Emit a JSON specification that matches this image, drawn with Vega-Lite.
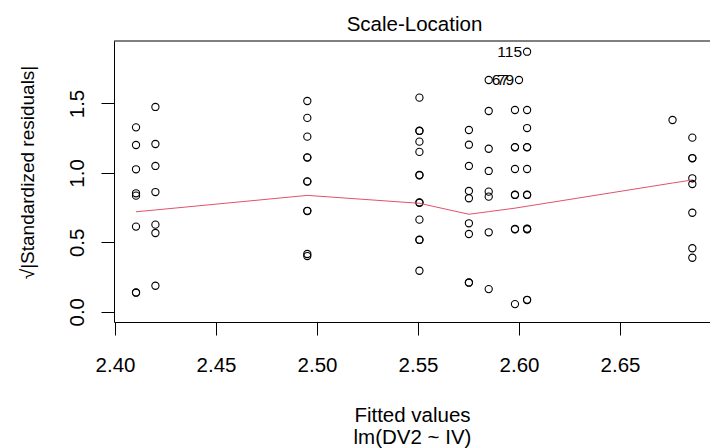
{
  "$schema": "https://vega.github.io/schema/vega-lite/v6.json",
  "width": 596,
  "height": 281,
  "autosize": {"type": "none"},
  "padding": {"left": 114, "top": 41, "right": 0, "bottom": 126},
  "config": {
    "view": {"stroke": null},
    "axis": {
      "grid": false,
      "domainColor": "#000",
      "tickColor": "#000",
      "labelColor": "#000",
      "titleColor": "#000",
      "labelFont": "Liberation Sans",
      "titleFont": "Liberation Sans",
      "labelFontSize": 20.5,
      "titleFontSize": 20.5,
      "titleFontWeight": "normal",
      "tickSize": 13
    }
  },
  "title": {
    "text": "Scale-Location",
    "fontSize": 20.5,
    "fontWeight": "normal",
    "font": "Liberation Sans",
    "color": "#000",
    "anchor": "middle",
    "frame": "group",
    "offset": 5,
    "dx": 2.5
  },
  "datasets": {
    "pts": [
      {"fitted": 2.4104, "sr": 1.328, "label": ""},
      {"fitted": 2.4104, "sr": 1.201, "label": ""},
      {"fitted": 2.4104, "sr": 1.026, "label": ""},
      {"fitted": 2.4104, "sr": 0.853, "label": ""},
      {"fitted": 2.4104, "sr": 0.836, "label": ""},
      {"fitted": 2.4104, "sr": 0.613, "label": ""},
      {"fitted": 2.4104, "sr": 0.137, "label": ""},
      {"fitted": 2.4104, "sr": 0.139, "label": ""},
      {"fitted": 2.42, "sr": 1.475, "label": ""},
      {"fitted": 2.42, "sr": 1.208, "label": ""},
      {"fitted": 2.42, "sr": 1.05, "label": ""},
      {"fitted": 2.42, "sr": 0.862, "label": ""},
      {"fitted": 2.42, "sr": 0.627, "label": ""},
      {"fitted": 2.42, "sr": 0.567, "label": ""},
      {"fitted": 2.42, "sr": 0.187, "label": ""},
      {"fitted": 2.4952, "sr": 1.518, "label": ""},
      {"fitted": 2.4952, "sr": 1.396, "label": ""},
      {"fitted": 2.4952, "sr": 1.261, "label": ""},
      {"fitted": 2.4952, "sr": 1.11, "label": ""},
      {"fitted": 2.4952, "sr": 1.112, "label": ""},
      {"fitted": 2.4952, "sr": 0.937, "label": ""},
      {"fitted": 2.4952, "sr": 0.939, "label": ""},
      {"fitted": 2.4952, "sr": 0.725, "label": ""},
      {"fitted": 2.4952, "sr": 0.727, "label": ""},
      {"fitted": 2.4952, "sr": 0.416, "label": ""},
      {"fitted": 2.4952, "sr": 0.401, "label": ""},
      {"fitted": 2.5507, "sr": 1.542, "label": ""},
      {"fitted": 2.5507, "sr": 1.302, "label": ""},
      {"fitted": 2.5507, "sr": 1.304, "label": ""},
      {"fitted": 2.5507, "sr": 1.225, "label": ""},
      {"fitted": 2.5507, "sr": 1.151, "label": ""},
      {"fitted": 2.5507, "sr": 0.983, "label": ""},
      {"fitted": 2.5507, "sr": 0.985, "label": ""},
      {"fitted": 2.5507, "sr": 0.785, "label": ""},
      {"fitted": 2.5507, "sr": 0.787, "label": ""},
      {"fitted": 2.5507, "sr": 0.663, "label": ""},
      {"fitted": 2.5507, "sr": 0.517, "label": ""},
      {"fitted": 2.5507, "sr": 0.519, "label": ""},
      {"fitted": 2.5507, "sr": 0.295, "label": ""},
      {"fitted": 2.5752, "sr": 1.309, "label": ""},
      {"fitted": 2.5752, "sr": 1.203, "label": ""},
      {"fitted": 2.5752, "sr": 1.05, "label": ""},
      {"fitted": 2.5752, "sr": 0.87, "label": ""},
      {"fitted": 2.5752, "sr": 0.817, "label": ""},
      {"fitted": 2.5752, "sr": 0.637, "label": ""},
      {"fitted": 2.5752, "sr": 0.56, "label": ""},
      {"fitted": 2.5752, "sr": 0.209, "label": ""},
      {"fitted": 2.5752, "sr": 0.211, "label": ""},
      {"fitted": 2.585, "sr": 1.669, "label": "67"},
      {"fitted": 2.585, "sr": 1.446, "label": ""},
      {"fitted": 2.585, "sr": 1.174, "label": ""},
      {"fitted": 2.585, "sr": 1.014, "label": ""},
      {"fitted": 2.585, "sr": 0.865, "label": ""},
      {"fitted": 2.585, "sr": 0.829, "label": ""},
      {"fitted": 2.585, "sr": 0.572, "label": ""},
      {"fitted": 2.585, "sr": 0.163, "label": ""},
      {"fitted": 2.6, "sr": 1.669, "label": "79"},
      {"fitted": 2.598, "sr": 1.453, "label": ""},
      {"fitted": 2.598, "sr": 1.184, "label": ""},
      {"fitted": 2.598, "sr": 1.186, "label": ""},
      {"fitted": 2.598, "sr": 1.028, "label": ""},
      {"fitted": 2.598, "sr": 0.841, "label": ""},
      {"fitted": 2.598, "sr": 0.843, "label": ""},
      {"fitted": 2.598, "sr": 0.594, "label": ""},
      {"fitted": 2.598, "sr": 0.596, "label": ""},
      {"fitted": 2.598, "sr": 0.055, "label": ""},
      {"fitted": 2.604, "sr": 1.873, "label": "115"},
      {"fitted": 2.604, "sr": 1.453, "label": ""},
      {"fitted": 2.604, "sr": 1.323, "label": ""},
      {"fitted": 2.604, "sr": 1.184, "label": ""},
      {"fitted": 2.604, "sr": 1.186, "label": ""},
      {"fitted": 2.604, "sr": 1.028, "label": ""},
      {"fitted": 2.604, "sr": 0.841, "label": ""},
      {"fitted": 2.604, "sr": 0.843, "label": ""},
      {"fitted": 2.604, "sr": 0.594, "label": ""},
      {"fitted": 2.604, "sr": 0.596, "label": ""},
      {"fitted": 2.604, "sr": 0.598, "label": ""},
      {"fitted": 2.604, "sr": 0.084, "label": ""},
      {"fitted": 2.604, "sr": 0.086, "label": ""},
      {"fitted": 2.676, "sr": 1.381, "label": ""},
      {"fitted": 2.6858, "sr": 1.254, "label": ""},
      {"fitted": 2.6858, "sr": 1.105, "label": ""},
      {"fitted": 2.6858, "sr": 1.107, "label": ""},
      {"fitted": 2.6858, "sr": 0.961, "label": ""},
      {"fitted": 2.6858, "sr": 0.92, "label": ""},
      {"fitted": 2.6858, "sr": 0.713, "label": ""},
      {"fitted": 2.6858, "sr": 0.457, "label": ""},
      {"fitted": 2.6858, "sr": 0.389, "label": ""}
    ],
    "smooth": [
      {"fitted": 2.4104, "sr": 0.72},
      {"fitted": 2.42, "sr": 0.733},
      {"fitted": 2.4952, "sr": 0.838},
      {"fitted": 2.5507, "sr": 0.781},
      {"fitted": 2.5752, "sr": 0.702},
      {"fitted": 2.585, "sr": 0.721},
      {"fitted": 2.598, "sr": 0.746},
      {"fitted": 2.604, "sr": 0.76},
      {"fitted": 2.676, "sr": 0.927},
      {"fitted": 2.6858, "sr": 0.949}
    ],
    "frame": [
      {"top": 1.95}
    ]
  },
  "layer": [
    {
      "data": {"name": "pts"},
      "mark": {"type": "point", "shape": "circle", "filled": false, "size": 52, "strokeWidth": 1.1, "color": "#000", "opacity": 1},
      "encoding": {
        "x": {
          "field": "fitted", "type": "quantitative",
          "scale": {"domain": [2.3995, 2.69455], "nice": false, "zero": false},
          "axis": {
            "values": [2.4, 2.45, 2.5, 2.55, 2.6, 2.65],
            "format": ".2f",
            "labelPadding": 20,
            "title": ["Fitted values", "lm(DV2 ~ IV)"],
            "titleLineHeight": 22,
            "titlePadding": 30
          }
        },
        "y": {
          "field": "sr", "type": "quantitative",
          "scale": {"domain": [-0.074, 1.95], "nice": false, "zero": false},
          "axis": {
            "values": [0, 0.5, 1, 1.5],
            "format": ".1f",
            "labelAngle": -90,
            "labelPadding": 14,
            "title": "√|Standardized residuals|",
            "titleFontSize": 19,
            "titlePadding": 30,
            "titleY": 131
          }
        }
      }
    },
    {
      "data": {"name": "frame"},
      "mark": {"type": "rule", "color": "#000", "strokeWidth": 1},
      "encoding": {
        "y": {"field": "top", "type": "quantitative"}
      }
    },
    {
      "data": {"name": "smooth"},
      "mark": {"type": "line", "color": "#DF536B", "strokeWidth": 1},
      "encoding": {
        "x": {"field": "fitted", "type": "quantitative"},
        "y": {"field": "sr", "type": "quantitative"}
      }
    },
    {
      "data": {"name": "pts"},
      "transform": [{"filter": "datum.label == '115' || datum.label == '79'"}],
      "mark": {"type": "text", "align": "right", "baseline": "middle", "dx": -5, "fontSize": 15.5, "font": "Liberation Sans", "color": "#000"},
      "encoding": {
        "x": {"field": "fitted", "type": "quantitative"},
        "y": {"field": "sr", "type": "quantitative"},
        "text": {"field": "label"}
      }
    },
    {
      "data": {"name": "pts"},
      "transform": [{"filter": "datum.label == '67'"}],
      "mark": {"type": "text", "align": "left", "baseline": "middle", "dx": 3, "fontSize": 15.5, "font": "Liberation Sans", "color": "#000"},
      "encoding": {
        "x": {"field": "fitted", "type": "quantitative"},
        "y": {"field": "sr", "type": "quantitative"},
        "text": {"field": "label"}
      }
    }
  ]
}
